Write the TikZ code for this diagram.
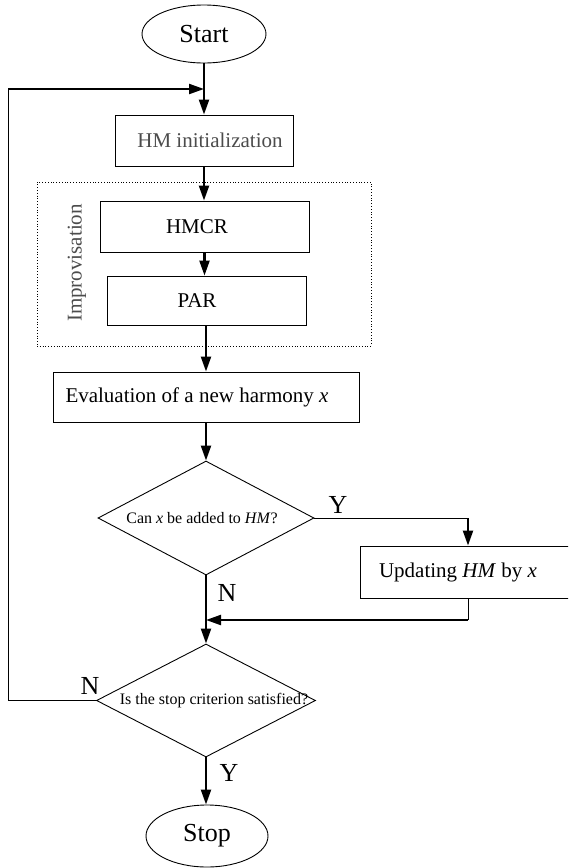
\documentclass[tikz,border=0pt]{standalone}
\usepackage{fontspec}
\setmainfont{Liberation Serif}
\usetikzlibrary{shapes.geometric,arrows.meta}
\newcommand{\offtext}[3]{\raisebox{#2}{\makebox[0pt]{\hspace*{#1}#3}}}
\definecolor{txtgray}{gray}{0.3}
\tikzset{
  box/.style={draw, line width=0.9pt, rectangle, inner sep=0pt, font=\fontsize{21}{25}\selectfont},
  term/.style={draw, line width=0.9pt, ellipse, inner sep=0pt, font=\fontsize{26}{30}\selectfont},
  decision/.style={draw, line width=0.9pt, diamond, inner sep=0pt, font=\fontsize{16}{19}\selectfont},
  flow/.style={line width=2.2pt, -{Triangle[length=15pt,width=10pt]}},
  thinline/.style={line width=0.9pt},
  thickline/.style={line width=2.2pt},
  lab/.style={font=\fontsize{26}{30}\selectfont, inner sep=0pt},
}
\begin{document}
\begin{tikzpicture}[x=1pt,y=-1pt]
\clip (0,0) rectangle (568,868);
\useasboundingbox (0,0) rectangle (568,868);
\fill[white] (0,0) rectangle (568,868);

\node[term, minimum width=124pt, minimum height=58pt] (start) at (204,34) {Start};
\node[box, minimum width=178pt, minimum height=51pt, text=txtgray] (init) at (204,140.5) {\offtext{12pt}{-4pt}{HM initialization}};
\node[draw, dotted, line width=0.8pt, rectangle, inner sep=0pt, minimum width=334pt, minimum height=164pt] (impro) at (204,264) {};
\node[font=\fontsize{21}{25}\selectfont, text=txtgray, rotate=90, inner sep=0pt] (improlab) at (77,263) {Improvisation};
\node[box, minimum width=209pt, minimum height=51pt] (hmcr) at (204.5,226.5) {\offtext{-15pt}{-4pt}{HMCR}};
\node[box, minimum width=199pt, minimum height=49pt] (par) at (206.5,300.5) {\offtext{-19pt}{-4pt}{PAR}};
\node[box, minimum width=306pt, minimum height=50pt] (eval) at (206,397) {\offtext{-18pt}{-3pt}{Evaluation of a new harmony \textit{x}}};
\node[decision, minimum width=216pt, minimum height=114pt] (d1) at (206,518) {\offtext{-8pt}{0pt}{Can \textit{x} be added to \textit{HM}?}};
\node[box, minimum width=216pt, minimum height=52pt] (upd) at (468,572) {\offtext{-20pt}{-3pt}{Updating \textit{HM} by \textit{x}}};
\node[decision, minimum width=219pt, minimum height=113pt] (d2) at (206,700.5) {\offtext{16pt}{0pt}{Is the stop criterion satisfied?}};
\node[term, minimum width=122pt, minimum height=62pt] (stop) at (207,836) {Stop};

\coordinate (fb) at (8,89);
\coordinate (jn) at (205,89);
\coordinate (yc) at (468,518);
\coordinate (rc) at (468,620);
\coordinate (mc) at (206,620);

% main flow
\draw[flow] (start.south) -- (start.south |- init.north);
\draw[flow] (init.south) -- (init.south |- hmcr.north);
\draw[flow] (hmcr.south) -- (hmcr.south |- par.north);
\draw[flow] (par.south -| eval.north) -- (eval.north);
\draw[flow] (eval.south) -- (d1.north);
\draw[flow] (d1.south) -- (d2.north);
\draw[flow] (d2.south) -- (d2.south |- stop.north);

% Y branch
\draw[thinline] (d1.east) -- (yc);
\draw[flow] (yc) -- (yc |- upd.north);
\draw[thinline] (upd.south -| rc) -- (rc);
\draw[flow] (rc) -- (mc);

% feedback loop
\draw[thinline] (d2.west) -| (fb);
\draw[flow, shorten >=1pt] (fb) -- (jn);

% labels
\node[lab] (ly1) at (338,505) {Y};
\node[lab] (ln1) at (227,593) {N};
\node[lab] (ln2) at (90,686) {N};
\node[lab] (ly2) at (229,773) {Y};
\end{tikzpicture}
\end{document}
